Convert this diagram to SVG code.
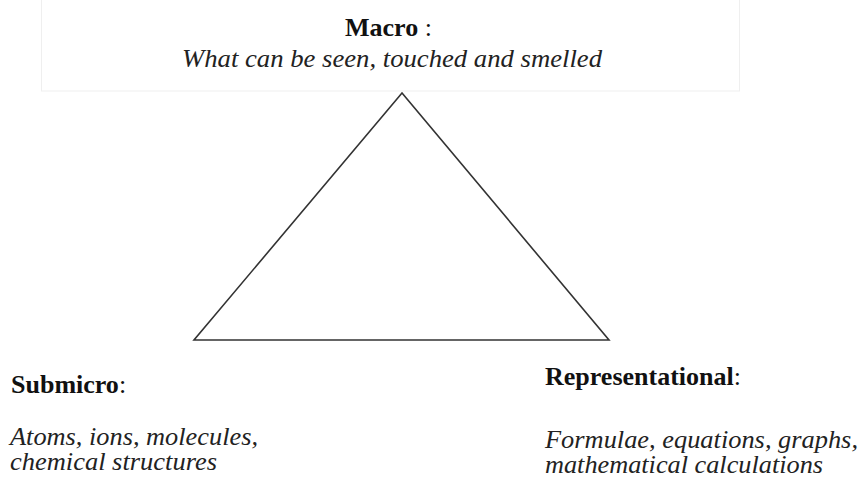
<svg xmlns="http://www.w3.org/2000/svg" width="861" height="482" viewBox="0 0 861 482">
  <style>
    text { font-family: "Liberation Serif", "Times New Roman", serif; font-size: 26px; fill: #111; }
    .b { font-weight: bold; }
    .i { font-style: italic; fill: #222; }
    .frame { fill: #ffffff; stroke: #efefef; stroke-width: 1; }
    .tri { fill: none; stroke: #333; stroke-width: 1.6; stroke-linejoin: miter; }
  </style>
  <rect width="861" height="482" fill="#ffffff"/>
  <g id="macro">
    <rect class="frame" x="41.5" y="-1" width="698" height="92"/>
    <text x="345" y="36"><tspan class="b">Macro</tspan> :</text>
    <text class="i" x="182" y="67" textLength="420" lengthAdjust="spacingAndGlyphs">What can be seen, touched and smelled</text>
  </g>
  <g id="connectors">
    <polygon class="tri" points="402,93 194,340 609,340"/>
  </g>
  <g id="submicro">
    <text x="11" y="393"><tspan class="b">Submicro</tspan>:</text>
    <text class="i" x="10" y="445" textLength="248" lengthAdjust="spacingAndGlyphs">Atoms, ions, molecules,</text>
    <text class="i" x="10" y="470" textLength="207" lengthAdjust="spacingAndGlyphs">chemical structures</text>
  </g>
  <g id="representational">
    <text x="545" y="385"><tspan class="b">Representational</tspan>:</text>
    <text class="i" x="545" y="448" textLength="313" lengthAdjust="spacingAndGlyphs">Formulae, equations, graphs,</text>
    <text class="i" x="545" y="473" textLength="278" lengthAdjust="spacingAndGlyphs">mathematical calculations</text>
  </g>
</svg>
